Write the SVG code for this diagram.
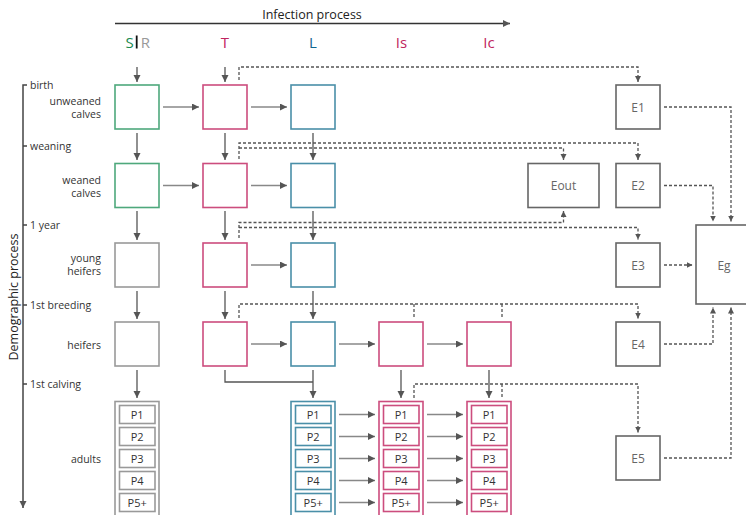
<svg xmlns="http://www.w3.org/2000/svg" width="746" height="515" viewBox="0 0 746 515">
<defs>
<marker id="ah" markerUnits="userSpaceOnUse" markerWidth="8" markerHeight="8" refX="7" refY="3.5" orient="auto"><path d="M0,0 L7,3.5 L0,7 z" fill="#555"/></marker>
<marker id="ahs" markerUnits="userSpaceOnUse" markerWidth="7" markerHeight="7" refX="6" refY="3" orient="auto"><path d="M0,0 L6,3 L0,6 z" fill="#555"/></marker>
</defs>
<style>
text{font-family:"Open Sans","DejaVu Sans",sans-serif;}
.lab{font-size:10.5px;fill:#333;}
.rl{font-size:10.5px;fill:#333;text-anchor:end;}
.col{font-size:15px;text-anchor:middle;}
.b{fill:#fff;stroke-width:1.6;}
.g{stroke:#4ea87c;}
.p{stroke:#cc4d7e;}
.bl{stroke:#4a8fa8;}
.gr{stroke:#999;}
.e{fill:#fff;stroke:#666;stroke-width:1.6;}
.et{font-size:12px;fill:#666;text-anchor:middle;}
.pt{font-size:11px;fill:#333;text-anchor:middle;}
.sv{stroke:#555;stroke-width:1.3;fill:none;}
.sh{stroke:#888;stroke-width:1.5;fill:none;}
.d{stroke:#555;stroke-width:1.3;fill:none;stroke-dasharray:3,2;}
.ax{stroke:#444;stroke-width:1.5;fill:none;}
</style>

<g id="header">
<line x1="115" y1="23.5" x2="510" y2="23.5" stroke="#333" stroke-width="1.3" marker-end="url(#ah)"/>
<text x="312" y="19" font-size="12.5" fill="#222" text-anchor="middle">Infection process</text>
<text class="col" x="129.5" y="47.5" fill="#1a8a50">S</text>
<line x1="136.7" y1="35.5" x2="136.7" y2="48.5" stroke="#111" stroke-width="1.8"/>
<text class="col" x="145.5" y="47.5" fill="#999">R</text>
<text class="col" x="225" y="47.5" fill="#c0245e">T</text>
<text class="col" x="313" y="47.5" fill="#0f6690">L</text>
<text class="col" x="401.5" y="47.5" fill="#c0245e">Is</text>
<text class="col" x="489" y="47.5" fill="#c0245e">Ic</text>
</g>

<g id="axis">
<path class="ax" d="M27,85 H23 V508" marker-end="url(#ah)"/>
<path class="ax" d="M23,146 H27 M23,225 H27 M23,305 H27 M23,384 H27"/>
<text class="lab" x="30" y="89">birth</text>
<text class="lab" x="30" y="150">weaning</text>
<text class="lab" x="30" y="229">1 year</text>
<text class="lab" x="30" y="309">1st breeding</text>
<text class="lab" x="30" y="388">1st calving</text>
<text x="18" y="297" font-size="12.5" fill="#222" text-anchor="middle" transform="rotate(-90 18 297)">Demographic process</text>
<text class="rl" x="101" y="105">unweaned</text>
<text class="rl" x="101" y="118">calves</text>
<text class="rl" x="101" y="184">weaned</text>
<text class="rl" x="101" y="197">calves</text>
<text class="rl" x="101" y="262">young</text>
<text class="rl" x="101" y="275">heifers</text>
<text class="rl" x="101" y="349">heifers</text>
<text class="rl" x="101" y="463">adults</text>
</g>

<g id="S1"><rect class="b g" x="115" y="85" width="44" height="44"/></g>
<g id="S2"><rect class="b g" x="115" y="163.5" width="44" height="44"/></g>
<g id="S3"><rect class="b gr" x="115" y="243" width="44" height="44"/></g>
<g id="S4"><rect class="b gr" x="115" y="322" width="44" height="44"/></g>
<g id="T1"><rect class="b p" x="203" y="85" width="44" height="44"/></g>
<g id="T2"><rect class="b p" x="203" y="163.5" width="44" height="44"/></g>
<g id="T3"><rect class="b p" x="203" y="243" width="44" height="44"/></g>
<g id="T4"><rect class="b p" x="203" y="322" width="44" height="44"/></g>
<g id="L1"><rect class="b bl" x="291" y="85" width="44" height="44"/></g>
<g id="L2"><rect class="b bl" x="291" y="163.5" width="44" height="44"/></g>
<g id="L3"><rect class="b bl" x="291" y="243" width="44" height="44"/></g>
<g id="L4"><rect class="b bl" x="291" y="322" width="44" height="44"/></g>
<g id="Is4"><rect class="b p" x="379" y="322" width="44" height="44"/></g>
<g id="Ic4"><rect class="b p" x="467" y="322" width="44" height="44"/></g>

<g id="S5">
<rect class="b gr" x="115" y="401.5" width="44" height="125"/>
<rect class="b gr" x="119.5" y="405.5" width="35.5" height="18"/><text class="pt" x="137.2" y="418.5">P1</text>
<rect class="b gr" x="119.5" y="427.5" width="35.5" height="18"/><text class="pt" x="137.2" y="440.5">P2</text>
<rect class="b gr" x="119.5" y="449.5" width="35.5" height="18"/><text class="pt" x="137.2" y="462.5">P3</text>
<rect class="b gr" x="119.5" y="471.5" width="35.5" height="18"/><text class="pt" x="137.2" y="484.5">P4</text>
<rect class="b gr" x="119.5" y="493.5" width="35.5" height="18"/><text class="pt" x="137.2" y="506.5">P5+</text>
</g>
<g id="L5">
<rect class="b bl" x="291" y="401.5" width="44" height="125"/>
<rect class="b bl" x="295.5" y="405.5" width="35.5" height="18"/><text class="pt" x="313.2" y="418.5">P1</text>
<rect class="b bl" x="295.5" y="427.5" width="35.5" height="18"/><text class="pt" x="313.2" y="440.5">P2</text>
<rect class="b bl" x="295.5" y="449.5" width="35.5" height="18"/><text class="pt" x="313.2" y="462.5">P3</text>
<rect class="b bl" x="295.5" y="471.5" width="35.5" height="18"/><text class="pt" x="313.2" y="484.5">P4</text>
<rect class="b bl" x="295.5" y="493.5" width="35.5" height="18"/><text class="pt" x="313.2" y="506.5">P5+</text>
</g>
<g id="Is5">
<rect class="b p" x="379" y="401.5" width="44" height="125"/>
<rect class="b p" x="383.5" y="405.5" width="35.5" height="18"/><text class="pt" x="401.2" y="418.5">P1</text>
<rect class="b p" x="383.5" y="427.5" width="35.5" height="18"/><text class="pt" x="401.2" y="440.5">P2</text>
<rect class="b p" x="383.5" y="449.5" width="35.5" height="18"/><text class="pt" x="401.2" y="462.5">P3</text>
<rect class="b p" x="383.5" y="471.5" width="35.5" height="18"/><text class="pt" x="401.2" y="484.5">P4</text>
<rect class="b p" x="383.5" y="493.5" width="35.5" height="18"/><text class="pt" x="401.2" y="506.5">P5+</text>
</g>
<g id="Ic5">
<rect class="b p" x="467" y="401.5" width="44" height="125"/>
<rect class="b p" x="471.5" y="405.5" width="35.5" height="18"/><text class="pt" x="489.2" y="418.5">P1</text>
<rect class="b p" x="471.5" y="427.5" width="35.5" height="18"/><text class="pt" x="489.2" y="440.5">P2</text>
<rect class="b p" x="471.5" y="449.5" width="35.5" height="18"/><text class="pt" x="489.2" y="462.5">P3</text>
<rect class="b p" x="471.5" y="471.5" width="35.5" height="18"/><text class="pt" x="489.2" y="484.5">P4</text>
<rect class="b p" x="471.5" y="493.5" width="35.5" height="18"/><text class="pt" x="489.2" y="506.5">P5+</text>
</g>

<g id="Eout"><rect class="e" x="528" y="163.5" width="71" height="44"/><text class="et" x="563.5" y="190">Eout</text></g>
<g id="E1"><rect class="e" x="616" y="85" width="44" height="44"/><text class="et" x="638" y="111.5">E1</text></g>
<g id="E2"><rect class="e" x="616" y="163.5" width="44" height="44"/><text class="et" x="638" y="190">E2</text></g>
<g id="E3"><rect class="e" x="616" y="243" width="44" height="44"/><text class="et" x="638" y="269.5">E3</text></g>
<g id="E4"><rect class="e" x="616" y="322" width="44" height="44"/><text class="et" x="638" y="348.5">E4</text></g>
<g id="E5"><rect class="e" x="616" y="436" width="44" height="44"/><text class="et" x="638" y="462.5">E5</text></g>
<g id="Eg"><rect class="e" x="696" y="225" width="70" height="79"/><text class="et" x="724" y="269.5">Eg</text></g>

<g id="connectors">
<line class="sv" x1="137" y1="67" x2="137" y2="82" marker-end="url(#ah)"/>
<line class="sv" x1="137" y1="133" x2="137" y2="160" marker-end="url(#ah)"/>
<line class="sv" x1="137" y1="211" x2="137" y2="240" marker-end="url(#ah)"/>
<line class="sv" x1="137" y1="291" x2="137" y2="319" marker-end="url(#ah)"/>
<line class="sv" x1="137" y1="370" x2="137" y2="398" marker-end="url(#ah)"/>
<line class="sv" x1="225" y1="67" x2="225" y2="82" marker-end="url(#ah)"/>
<line class="sv" x1="225" y1="133" x2="225" y2="160" marker-end="url(#ah)"/>
<line class="sv" x1="225" y1="211" x2="225" y2="240" marker-end="url(#ah)"/>
<line class="sv" x1="225" y1="291" x2="225" y2="319" marker-end="url(#ah)"/>
<line class="sv" x1="313" y1="133" x2="313" y2="160" marker-end="url(#ah)"/>
<line class="sv" x1="313" y1="211" x2="313" y2="240" marker-end="url(#ah)"/>
<line class="sv" x1="313" y1="291" x2="313" y2="319" marker-end="url(#ah)"/>
<line class="sv" x1="313" y1="370" x2="313" y2="398" marker-end="url(#ah)"/>
<path class="sv" d="M225,370 V382 H313"/>
<line class="sv" x1="401" y1="370" x2="401" y2="398" marker-end="url(#ah)"/>
<line class="sv" x1="489" y1="370" x2="489" y2="398" marker-end="url(#ah)"/>

<line class="sh" x1="163" y1="107" x2="199" y2="107" marker-end="url(#ah)"/>
<line class="sh" x1="251" y1="107" x2="287" y2="107" marker-end="url(#ah)"/>
<line class="sh" x1="163" y1="185.5" x2="199" y2="185.5" marker-end="url(#ah)"/>
<line class="sh" x1="251" y1="185.5" x2="287" y2="185.5" marker-end="url(#ah)"/>
<line class="sh" x1="251" y1="265" x2="287" y2="265" marker-end="url(#ah)"/>
<line class="sh" x1="251" y1="344" x2="287" y2="344" marker-end="url(#ah)"/>
<line class="sh" x1="339" y1="344" x2="375" y2="344" marker-end="url(#ah)"/>
<line class="sh" x1="427" y1="344" x2="463" y2="344" marker-end="url(#ah)"/>
<line class="sh" x1="339" y1="414.5" x2="375" y2="414.5" marker-end="url(#ah)"/>
<line class="sh" x1="339" y1="436.5" x2="375" y2="436.5" marker-end="url(#ah)"/>
<line class="sh" x1="339" y1="458.5" x2="375" y2="458.5" marker-end="url(#ah)"/>
<line class="sh" x1="339" y1="480.5" x2="375" y2="480.5" marker-end="url(#ah)"/>
<line class="sh" x1="339" y1="502.5" x2="375" y2="502.5" marker-end="url(#ah)"/>
<line class="sh" x1="427" y1="414.5" x2="463" y2="414.5" marker-end="url(#ah)"/>
<line class="sh" x1="427" y1="436.5" x2="463" y2="436.5" marker-end="url(#ah)"/>
<line class="sh" x1="427" y1="458.5" x2="463" y2="458.5" marker-end="url(#ah)"/>
<line class="sh" x1="427" y1="480.5" x2="463" y2="480.5" marker-end="url(#ah)"/>
<line class="sh" x1="427" y1="502.5" x2="463" y2="502.5" marker-end="url(#ah)"/>

<path class="d" d="M239,80 V67 H638 V82" marker-end="url(#ahs)"/>
<path class="d" d="M239,159 V143 H638 V160" marker-end="url(#ahs)"/>
<path class="d" d="M239,148 H563.5 V160" marker-end="url(#ahs)"/>
<path class="d" d="M239,238 V222.5 H563.5 V211" marker-end="url(#ahs)"/>
<path class="d" d="M239,227.5 H638 V239.5" marker-end="url(#ahs)"/>
<path class="d" d="M239,318 V304 H638 V318.5" marker-end="url(#ahs)"/>
<path class="d" d="M414,304 V318 M502,304 V318"/>
<path class="d" d="M414,398 V384 H638 V432.5" marker-end="url(#ahs)"/>
<path class="d" d="M502,384 V398"/>
<path class="d" d="M664,107 H731 V221.5" marker-end="url(#ahs)"/>
<path class="d" d="M664,185.5 H713 V221.5" marker-end="url(#ahs)"/>
<path class="d" d="M664,265 H692.5" marker-end="url(#ahs)"/>
<path class="d" d="M664,344 H713 V307.5" marker-end="url(#ahs)"/>
<path class="d" d="M664,458 H731 V307.5" marker-end="url(#ahs)"/>
</g>
</svg>
